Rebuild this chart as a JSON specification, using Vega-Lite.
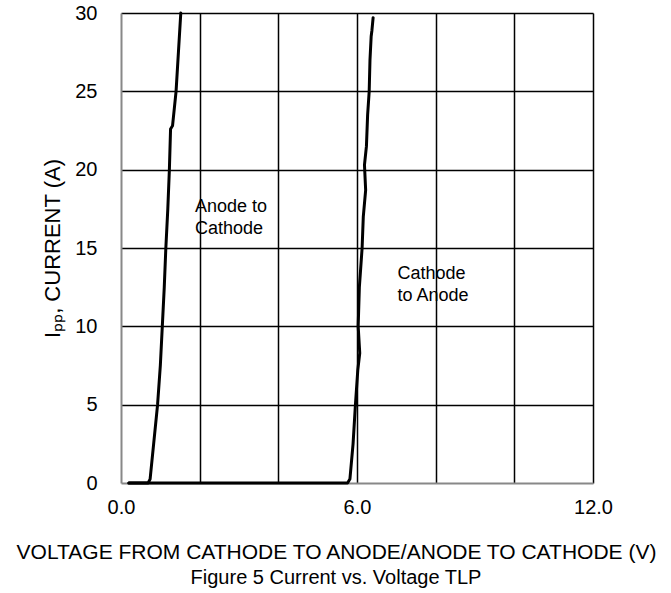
{
  "$schema": "https://vega.github.io/schema/vega-lite/v6.json",
  "width": 472,
  "height": 470,
  "autosize": "none",
  "padding": {"left": 121, "top": 13, "right": 78, "bottom": 110},
  "config": {
    "font": "Liberation Sans",
    "view": {"stroke": null},
    "axis": {"labelColor": "black", "titleColor": "black", "labelFont": "Liberation Sans", "titleFont": "Liberation Sans"}
  },
  "title": {
    "text": "Figure 5 Current vs. Voltage TLP",
    "orient": "bottom",
    "fontSize": 20,
    "fontWeight": "normal",
    "font": "Liberation Sans",
    "color": "black",
    "offset": 6,
    "dx": -21
  },
  "datasets": {
    "curves": [
      {"series": "Anode to Cathode", "i": 0, "V": 0.2, "I": 0},
      {"series": "Anode to Cathode", "i": 1, "V": 0.69, "I": 0},
      {"series": "Anode to Cathode", "i": 2, "V": 0.74, "I": 0.25},
      {"series": "Anode to Cathode", "i": 3, "V": 0.83, "I": 2.5},
      {"series": "Anode to Cathode", "i": 4, "V": 0.93, "I": 5},
      {"series": "Anode to Cathode", "i": 5, "V": 1.0, "I": 7.5},
      {"series": "Anode to Cathode", "i": 6, "V": 1.05, "I": 10},
      {"series": "Anode to Cathode", "i": 7, "V": 1.1, "I": 12.5},
      {"series": "Anode to Cathode", "i": 8, "V": 1.14, "I": 15},
      {"series": "Anode to Cathode", "i": 9, "V": 1.19, "I": 17.5},
      {"series": "Anode to Cathode", "i": 10, "V": 1.23, "I": 20},
      {"series": "Anode to Cathode", "i": 11, "V": 1.26, "I": 22.6},
      {"series": "Anode to Cathode", "i": 12, "V": 1.31, "I": 22.8},
      {"series": "Anode to Cathode", "i": 13, "V": 1.4, "I": 25},
      {"series": "Anode to Cathode", "i": 14, "V": 1.46, "I": 27.5},
      {"series": "Anode to Cathode", "i": 15, "V": 1.52, "I": 30},
      {"series": "Cathode to Anode", "i": 0, "V": 0.2, "I": 0},
      {"series": "Cathode to Anode", "i": 1, "V": 5.76, "I": 0},
      {"series": "Cathode to Anode", "i": 2, "V": 5.82, "I": 0.25},
      {"series": "Cathode to Anode", "i": 3, "V": 5.9, "I": 2.5},
      {"series": "Cathode to Anode", "i": 4, "V": 5.96, "I": 5},
      {"series": "Cathode to Anode", "i": 5, "V": 6.02, "I": 7.2},
      {"series": "Cathode to Anode", "i": 6, "V": 6.07, "I": 8.3},
      {"series": "Cathode to Anode", "i": 7, "V": 6.03, "I": 10},
      {"series": "Cathode to Anode", "i": 8, "V": 6.06, "I": 12.5},
      {"series": "Cathode to Anode", "i": 9, "V": 6.13, "I": 15},
      {"series": "Cathode to Anode", "i": 10, "V": 6.16, "I": 17},
      {"series": "Cathode to Anode", "i": 11, "V": 6.22, "I": 18.7},
      {"series": "Cathode to Anode", "i": 12, "V": 6.19, "I": 20.3},
      {"series": "Cathode to Anode", "i": 13, "V": 6.24, "I": 21.5},
      {"series": "Cathode to Anode", "i": 14, "V": 6.27, "I": 23.5},
      {"series": "Cathode to Anode", "i": 15, "V": 6.31, "I": 25},
      {"series": "Cathode to Anode", "i": 16, "V": 6.33, "I": 27},
      {"series": "Cathode to Anode", "i": 17, "V": 6.36, "I": 28.5},
      {"series": "Cathode to Anode", "i": 18, "V": 6.38, "I": 28.9},
      {"series": "Cathode to Anode", "i": 19, "V": 6.41, "I": 29.7}
    ],
    "notes": [
      {"label": ["Anode to", "Cathode"], "V": 1.88, "I": 17.27},
      {"label": ["Cathode", "to Anode"], "V": 7.03, "I": 13.02}
    ]
  },
  "layer": [
    {
      "data": {"name": "curves"},
      "mark": {"type": "line", "color": "black", "strokeWidth": 3, "strokeJoin": "round", "strokeCap": "round"},
      "encoding": {
        "x": {
          "field": "V",
          "type": "quantitative",
          "scale": {"domain": [0, 12], "nice": false, "zero": false},
          "axis": {
            "title": "VOLTAGE FROM CATHODE TO ANODE/ANODE TO CATHODE (V)",
            "values": [0, 2, 4, 6, 8, 10, 12],
            "labelExpr": "datum.value % 6 === 0 ? format(datum.value, '.1f') : ''",
            "labelFontSize": 20,
            "labelPadding": 14,
            "labelFlush": false,
            "ticks": false,
            "grid": true,
            "gridColor": {"condition": {"test": "datum.value === 0", "value": "transparent"}, "value": "black"},
            "gridWidth": 1.5,
            "gridOpacity": 1,
            "domainColor": "#888888",
            "domainWidth": 2,
            "titleFontSize": 21,
            "titleFontWeight": "normal",
            "titlePadding": 24,
            "titleX": 215
          }
        },
        "y": {
          "field": "I",
          "type": "quantitative",
          "scale": {"domain": [0, 30], "nice": false},
          "axis": {
            "title": "Iₚₚ, CURRENT (A)",
            "values": [0, 5, 10, 15, 20, 25, 30],
            "labelFontSize": 20,
            "labelPadding": 24,
            "labelFlush": false,
            "ticks": false,
            "grid": true,
            "gridColor": {"condition": {"test": "datum.value === 0", "value": "transparent"}, "value": "black"},
            "gridWidth": 1.5,
            "gridOpacity": 1,
            "domainColor": "#888888",
            "domainWidth": 2,
            "titleFontSize": 22,
            "titleFontWeight": "normal",
            "titlePadding": 10
          }
        },
        "detail": {"field": "series", "type": "nominal"},
        "order": {"field": "i", "type": "quantitative"}
      }
    },
    {
      "data": {"name": "notes"},
      "mark": {"type": "text", "align": "left", "baseline": "alphabetic", "fontSize": 18, "lineHeight": 22, "color": "black", "font": "Liberation Sans"},
      "encoding": {
        "x": {"field": "V", "type": "quantitative"},
        "y": {"field": "I", "type": "quantitative"},
        "text": {"field": "label"}
      }
    }
  ]
}
